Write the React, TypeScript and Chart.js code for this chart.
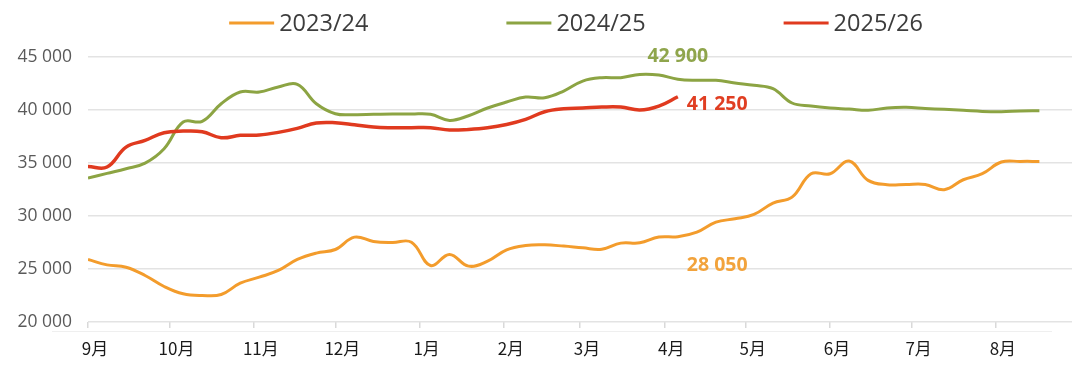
import React, { useEffect, useRef } from 'react';
import { Chart, registerables } from 'chart.js';

Chart.register(...registerables);

// ---- Data ----
const SERIES_LABELS = ['2023/24', '2024/25', '2025/26'];
const SERIES_COLORS = ['#F39C2C', '#8CA443', '#E03A1F'];
const LABEL_COLORS = ['#F2A33C', '#8FA54C', '#E03E22'];

const MONTH_LABELS = ['9月', '10月', '11月', '12月', '1月', '2月', '3月', '4月', '5月', '6月', '7月', '8月'];
// day offsets (from 1 Sept) of each month start
const MONTH_START_DAYS = [0, 30, 61, 91, 122, 153, 181, 212, 242, 273, 303, 334];

const VALUES_2023_24 = [
  25900, 25390, 25170, 24390, 23350, 22660, 22500, 22590, 23660, 24230,
  24860, 25900, 26500, 26840, 28010, 27600, 27500, 27530, 25330, 26370,
  25270, 25740, 26810, 27220, 27280, 27160, 27000, 26870, 27440, 27470,
  28010, 28050, 28480, 29420, 29740, 30150, 31220, 31780, 33990, 33990,
  35180, 33360, 32950, 32980, 32980, 32480, 33420, 33990, 35090, 35150,
  35150,
];
const VALUES_2024_25 = [
  33580, 34020, 34460, 34990, 36350, 38860, 38930, 40590, 41700, 41700,
  42170, 42420, 40590, 39650, 39560, 39590, 39620, 39620, 39590, 39020,
  39460, 40190, 40750, 41220, 41160, 41790, 42730, 43050, 43050, 43360,
  43300, 42900, 42800, 42800, 42550, 42330, 42010, 40660, 40370, 40190,
  40090, 39970, 40190, 40250, 40150, 40060, 39970, 39870, 39840, 39900,
  39930,
];
const VALUES_2025_26 = [
  34680, 34620, 36500, 37130, 37860, 38010, 37950, 37380, 37610, 37640,
  37890, 38270, 38770, 38800, 38610, 38390, 38330, 38330, 38330, 38110,
  38170, 38330, 38640, 39120, 39840, 40120, 40190, 40280, 40280, 40000,
  40370, 41250,
];
const SERIES_VALUES = [VALUES_2023_24, VALUES_2024_25, VALUES_2025_26];
const CURRENT_WEEK = 31;
const END_LABELS = ['28 050', '42 900', '41 250'];

const Y_MIN = 20000;
const Y_MAX = 45000;
const Y_STEP = 5000;

const weekToDay = (i: number) => i * 7;
const fmt = (v: number) => String(v).replace(/\B(?=(\d{3})+(?!\d))/g, ' ');

const overlayPlugin = {
  id: 'overlay',
  afterDraw(chart: any) {
    const { ctx, scales } = chart;
    const xs = scales.x;
    const ys = scales.y;
    ctx.save();

    // faint base line below axis
    ctx.strokeStyle = '#efefef';
    ctx.lineWidth = 1;
    ctx.beginPath();
    ctx.moveTo(52, 331.5);
    ctx.lineTo(1052, 331.5);
    ctx.stroke();

    // legend
    ctx.font = '23.5px "Open Sans"';
    ctx.textBaseline = 'middle';
    ctx.textAlign = 'left';
    const lineLen = 45;
    const textGap = 5;
    const itemGap = 138;
    const widths = SERIES_LABELS.map((l) => lineLen + textGap + ctx.measureText(l).width);
    const total = widths.reduce((a, b) => a + b, 0) + itemGap * (widths.length - 1);
    let x = 576 - total / 2;
    const ly = 23;
    SERIES_LABELS.forEach((l, i) => {
      ctx.strokeStyle = SERIES_COLORS[i];
      ctx.lineWidth = 3;
      ctx.beginPath();
      ctx.moveTo(x, ly);
      ctx.lineTo(x + lineLen, ly);
      ctx.stroke();
      ctx.fillStyle = '#3c3c3c';
      ctx.fillText(l, x + lineLen + textGap, ly + 1);
      x += widths[i] + itemGap;
    });

    // end-value labels
    ctx.font = 'bold 19.5px "Open Sans"';
    const px = xs.getPixelForValue(weekToDay(CURRENT_WEEK));
    {
      const py = ys.getPixelForValue(VALUES_2024_25[CURRENT_WEEK]);
      ctx.fillStyle = LABEL_COLORS[1];
      ctx.textAlign = 'center';
      ctx.fillText(END_LABELS[1], px, py - 23);
    }
    {
      const py = ys.getPixelForValue(VALUES_2025_26[CURRENT_WEEK]);
      ctx.fillStyle = LABEL_COLORS[2];
      ctx.textAlign = 'left';
      ctx.fillText(END_LABELS[2], px + 9, py + 8);
    }
    {
      const py = ys.getPixelForValue(VALUES_2023_24[CURRENT_WEEK]);
      ctx.fillStyle = LABEL_COLORS[0];
      ctx.textAlign = 'left';
      ctx.fillText(END_LABELS[0], px + 9, py + 29);
    }
    ctx.restore();
  },
};

export default function App() {
  const canvasRef = useRef<HTMLCanvasElement | null>(null);

  useEffect(() => {
    if (!canvasRef.current) return;
    const chart = new Chart(canvasRef.current, {
      type: 'line',
      data: {
        datasets: SERIES_LABELS.map((label, i) => ({
          label,
          data: SERIES_VALUES[i].map((v, w) => ({ x: weekToDay(w), y: v })),
          borderColor: SERIES_COLORS[i],
          backgroundColor: SERIES_COLORS[i],
          borderWidth: i === 2 ? 3.5 : 3,
          pointRadius: 0,
          tension: 0.4,
          fill: false,
          order: 3 - i,
        })),
      },
      options: {
        responsive: false,
        animation: false,
        layout: { padding: { top: 57, right: 8, left: 0, bottom: 0 } },
        plugins: { legend: { display: false }, tooltip: { enabled: false } },
        scales: {
          x: {
            type: 'linear',
            min: 0,
            max: 362,
            afterBuildTicks: (s: any) => {
              s.ticks = MONTH_START_DAYS.map((v) => ({ value: v }));
            },
            afterFit: (s: any) => {
              s.height = 59;
            },
            ticks: {
              autoSkip: false,
              maxRotation: 0,
              padding: 10,
              labelOffset: 7,
              color: '#1a1a1a',
              font: { family: '"Noto Sans CJK SC", "Noto Sans"', size: 17 },
              callback: (_v: any, idx: number) => MONTH_LABELS[idx],
            },
            grid: {
              drawOnChartArea: false,
              drawTicks: true,
              tickLength: 6,
              color: '#d9d9d9',
              lineWidth: 1.5,
            },
            border: { display: false },
          },
          y: {
            min: Y_MIN,
            max: Y_MAX,
            afterFit: (s: any) => {
              s.width = 88;
            },
            ticks: {
              stepSize: Y_STEP,
              padding: 16,
              color: '#5a5a5a',
              font: { family: '"Open Sans"', size: 17.5 },
              callback: (v: any) => fmt(Number(v)),
            },
            grid: { color: '#e3e3e3', lineWidth: 1.5, drawTicks: false },
            border: { display: false },
          },
        },
      },
      plugins: [overlayPlugin],
    } as any);
    return () => chart.destroy();
  }, []);

  return (
    <div style={{ position: 'fixed', left: 0, top: 0, width: 1080, height: 381, background: '#ffffff' }}>
      <canvas ref={canvasRef} width={1080} height={381} style={{ display: 'block' }} />
    </div>
  );
}
